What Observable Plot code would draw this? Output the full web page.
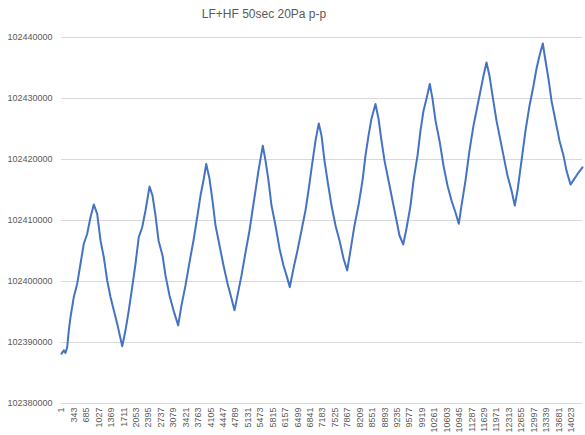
<!DOCTYPE html>
<html>
<head>
<meta charset="utf-8">
<script src="https://cdn.jsdelivr.net/npm/d3@7"></script>
<script src="https://cdn.jsdelivr.net/npm/@observablehq/plot@0.6"></script>
<style>
  html, body { margin: 0; padding: 0; background: #ffffff; }
  #wrap { position: relative; width: 585px; height: 435px; overflow: hidden; }
  #title { position: absolute; top: 7px; left: 0; width: 528px; text-align: center;
           font-family: "Liberation Sans", Arial, sans-serif; font-size: 12px; line-height: 15px; color: #595959; }
</style>
</head>
<body>
<div id="wrap">
  <div id="title"></div>
</div>
<script>
const chartTitle = "LF+HF 50sec 20Pa p-p";

const xTicks = [1, 343, 685, 1027, 1369, 1711, 2053, 2395, 2737, 3079, 3421, 3763, 4105, 4447,
  4789, 5131, 5473, 5815, 6157, 6499, 6841, 7183, 7525, 7867, 8209, 8551, 8893, 9235, 9577,
  9919, 10261, 10603, 10945, 11287, 11629, 11971, 12313, 12655, 12997, 13339, 13681, 14023];

const yTicks = [102380000, 102390000, 102400000, 102410000, 102420000, 102430000, 102440000];

const sampleIndex = [
  1, 64, 111, 158, 202, 249, 339, 433, 524, 614, 708, 799, 890, 983, 1074, 1165, 1258, 1349, 1440, 1533, 1671,
  1762, 1852, 1946, 2037, 2127, 2221, 2312, 2422,
  2504, 2587, 2670, 2780, 2862, 2972, 3082, 3211,
  3302, 3412, 3522, 3632, 3742, 3825, 3907, 3982,
  4072, 4155, 4238, 4348, 4458, 4568, 4678, 4760,
  4843, 4953, 5063, 5173, 5255, 5338, 5420, 5539,
  5613, 5696, 5778, 5888, 5998, 6108, 6191, 6282,
  6383, 6493, 6603, 6713, 6796, 6879, 6989, 7079,
  7154, 7236, 7319, 7429, 7539, 7649, 7759, 7861,
  7951, 8061, 8171, 8282, 8364, 8447, 8529, 8639,
  8722, 8804, 8887, 8997, 9107, 9217, 9299, 9401,
  9492, 9602, 9685, 9795, 9877, 9960, 10042, 10133,
  10207, 10290, 10400, 10510, 10620, 10730, 10840, 10931,
  11005, 11115, 11225, 11335, 11445, 11528, 11610, 11693,
  11775, 11858, 11968, 12078, 12188, 12270, 12381, 12471,
  12546, 12656, 12766, 12876, 12986, 13068, 13151, 13242,
  13316, 13398, 13481, 13591, 13701, 13811, 13894, 14004,
  14114, 14224, 14334
];

const pressure = [
  102388180, 102388720, 102388280, 102389260, 102392000, 102394170, 102397450, 102399640, 102402910, 102406190,
  102407820, 102410540, 102412620, 102411100, 102406730, 102403990, 102400180, 102397450, 102395270, 102393090, 102389380,
  102392000, 102395270, 102399080, 102402910, 102407270, 102408900, 102411640, 102415560,
  102414090, 102410820, 102406730, 102404270, 102401000, 102397720, 102395270, 102392810,
  102396090, 102399360, 102403130, 102406730, 102410820, 102414090, 102416550, 102419280,
  102416870, 102413270, 102409180, 102405910, 102402630, 102399690, 102397230, 102395270,
  102397720, 102401000, 102404760, 102408360, 102411640, 102414910, 102418180, 102422270,
  102419820, 102416550, 102412450, 102409180, 102405420, 102402630, 102401000, 102399080,
  102402140, 102405090, 102408360, 102411640, 102414910, 102418510, 102423090, 102425920,
  102423910, 102419820, 102416550, 102412450, 102409180, 102406730, 102403780, 102401820,
  102405090, 102409180, 102412450, 102416550, 102420640, 102423910, 102426690, 102429100,
  102426690, 102423090, 102419820, 102416550, 102413270, 102410000, 102407540, 102406070,
  102408690, 102412450, 102416550, 102420640, 102424730, 102428000, 102429970, 102432370,
  102429970, 102426370, 102423090, 102419000, 102415730, 102413270, 102411310, 102409460,
  102412450, 102416550, 102421460, 102425550, 102428820, 102431280, 102433730, 102435910,
  102433730, 102430460, 102426370, 102423090, 102419820, 102417360, 102414910, 102412450,
  102414910, 102419820, 102424730, 102428820, 102432100, 102434880, 102437010, 102439020,
  102436190, 102433240, 102429640, 102426370, 102423090, 102420640, 102418180, 102415890,
  102416870, 102417860, 102418720
];

const data = sampleIndex.map((i, k) => ({ i, v: pressure[k] }));

document.getElementById("title").textContent = chartTitle;

const chart = Plot.plot({
  width: 585,
  height: 435,
  marginLeft: 61,
  marginRight: 3,
  marginTop: 37,
  marginBottom: 32,
  style: { fontFamily: "Liberation Sans, Arial, sans-serif", fontSize: "9px", color: "#595959", background: "transparent" },
  x: {
    type: "linear",
    domain: [1, 14334],
    ticks: xTicks,
    tickFormat: d => String(d),
    tickRotate: -90,
    tickSize: 0,
    tickPadding: 4,
    label: null
  },
  y: {
    domain: [102380000, 102440000],
    ticks: yTicks,
    tickFormat: d => String(d),
    tickSize: 0,
    tickPadding: 9,
    label: null
  },
  marks: [
    Plot.ruleY(yTicks, { stroke: "#d9d9d9", strokeWidth: 1 }),
    Plot.line(data, { x: "i", y: "v", stroke: "#4472C4", strokeWidth: 2, strokeLinejoin: "round", strokeLinecap: "round" })
  ]
});
document.getElementById("wrap").appendChild(chart);
chart.style.position = "absolute";
chart.style.top = "0";
chart.style.left = "0";
</script>
</body>
</html>
